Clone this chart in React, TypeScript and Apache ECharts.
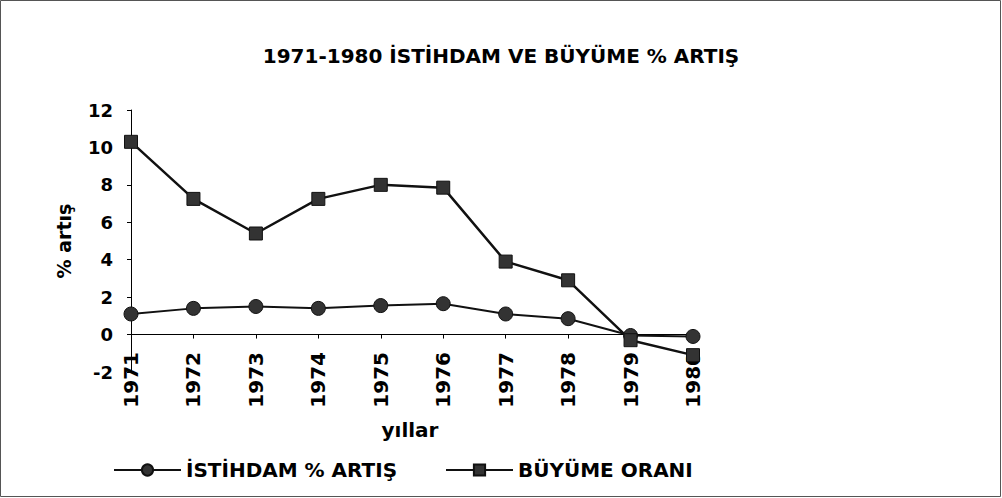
import React, { useEffect, useRef } from "react";
import * as echarts from "echarts";

const years = ["1971", "1972", "1973", "1974", "1975", "1976", "1977", "1978", "1979", "1980"];
const istihdam = [1.1, 1.4, 1.5, 1.4, 1.55, 1.65, 1.1, 0.85, -0.05, -0.1];
const buyume = [10.3, 7.25, 5.4, 7.25, 8.0, 7.85, 3.9, 2.9, -0.3, -1.1];
const titleText = "1971-1980 İSTİHDAM VE BÜYÜME % ARTIŞ";
const seriesNames = ["İSTİHDAM % ARTIŞ", "BÜYÜME ORANI"];
const yName = "% artış";
const xName = "yıllar";

const FONT = "'DejaVu Sans', 'Liberation Sans', Arial, sans-serif";

export default function App() {
  const ref = useRef<HTMLDivElement>(null);
  useEffect(() => {
    if (!ref.current) return;
    const chart = echarts.init(ref.current, null, { renderer: "svg" });
    const legendCommon = {
      top: 455,
      itemWidth: 67,
      itemHeight: 14,
      textStyle: { fontSize: 20, fontWeight: "bold", color: "#000", fontFamily: FONT },
    };
    chart.setOption({
      animation: false,
      backgroundColor: "#fff",
      textStyle: { fontFamily: FONT },
      title: {
        text: titleText,
        left: "center",
        top: 41,
        textStyle: { fontSize: 20, fontWeight: "bold", color: "#000", fontFamily: FONT },
      },
      grid: { left: 131, right: 309, top: 110, bottom: 126 },
      xAxis: {
        type: "category",
        data: years,
        boundaryGap: false,
        axisLine: { onZero: true, lineStyle: { color: "#000", width: 1 } },
        axisTick: { show: true, inside: false, length: 4, lineStyle: { color: "#000" } },
        axisLabel: {
          rotate: 90,
          margin: -20,
          color: "#000",
          fontSize: 20,
          fontWeight: "bold",
          fontFamily: FONT,
        },
      },
      yAxis: {
        type: "value",
        min: -2,
        max: 12,
        interval: 2,
        name: yName,
        nameLocation: "middle",
        nameGap: 58,
        nameRotate: 90,
        nameTextStyle: { fontSize: 19, fontWeight: "bold", color: "#000", fontFamily: FONT },
        splitLine: { show: false },
        axisLine: { show: true, lineStyle: { color: "#000", width: 1 } },
        axisTick: { show: true, length: 4, lineStyle: { color: "#000" } },
        axisLabel: { color: "#000", fontSize: 18, fontWeight: "bold", margin: 18, fontFamily: FONT },
      },
      legend: [
        { ...legendCommon, left: 108, data: [seriesNames[0]] },
        { ...legendCommon, left: 440, data: [seriesNames[1]] },
      ],
      graphic: [
        {
          type: "rect",
          shape: { x: 0.5, y: 0.5, width: 1000, height: 496 },
          style: { fill: "none", stroke: "#555", lineWidth: 1 },
          silent: true,
        },
        {
          type: "text",
          x: 410,
          y: 430,
          style: {
            text: xName,
            fontSize: 20,
            fontWeight: "bold",
            fill: "#000",
            align: "center",
            verticalAlign: "middle",
            fontFamily: FONT,
          },
        },
      ],
      series: [
        {
          name: seriesNames[0],
          type: "line",
          data: istihdam,
          symbol: "circle",
          symbolSize: 14,
          showAllSymbol: true,
          lineStyle: { color: "#111", width: 2 },
          itemStyle: { color: "#333", borderColor: "#111", borderWidth: 1 },
        },
        {
          name: seriesNames[1],
          type: "line",
          data: buyume,
          symbol: "rect",
          symbolSize: 13,
          showAllSymbol: true,
          lineStyle: { color: "#111", width: 2.5 },
          itemStyle: { color: "#333", borderColor: "#111", borderWidth: 1 },
        },
      ],
    });
    return () => chart.dispose();
  }, []);
  return <div ref={ref} style={{ width: 1002, height: 498, position: "absolute", left: 0, top: 0 }} />;
}
